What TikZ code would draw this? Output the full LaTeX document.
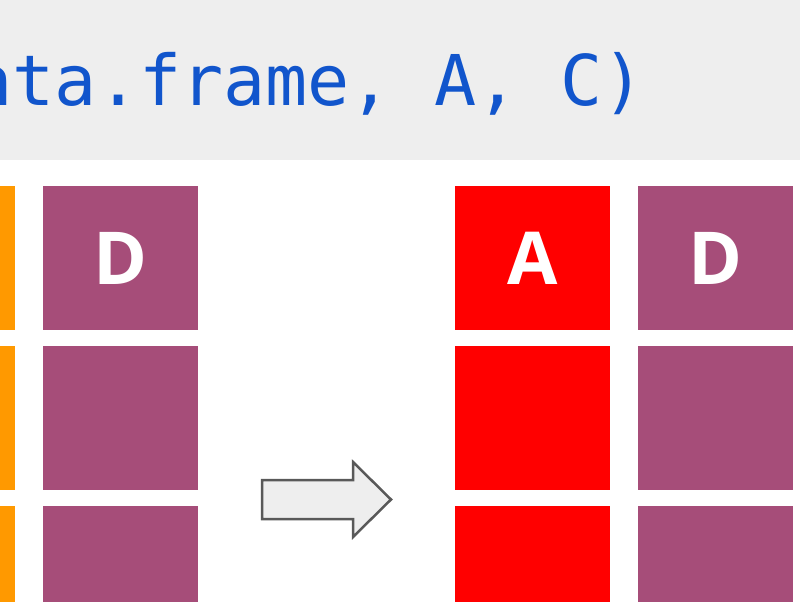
\documentclass[tikz,border=0pt]{standalone}
\usepackage{fontspec}
\newfontfamily\codefont{DejaVu Sans Mono}
\newfontfamily\headfont{Open Sans}
\usetikzlibrary{positioning}
\definecolor{codeblue}{HTML}{1155CC}
\definecolor{codebg}{HTML}{EEEEEE}
\definecolor{colorange}{HTML}{FF9900}
\definecolor{colpurple}{HTML}{A64D79}
\definecolor{colred}{HTML}{FF0000}
\definecolor{arrowline}{HTML}{595959}

\begin{document}
\begin{tikzpicture}[
    x=1pt,y=-1pt,
    node distance=16pt and 28pt,
    band/.style={rectangle,fill=codebg,minimum width=800pt,minimum height=160pt,inner sep=0pt,outer sep=0pt},
    code/.style={inner sep=0pt,text=codeblue,font=\codefont\fontsize{70}{70}\selectfont},
    cell/.style={rectangle,minimum width=155pt,minimum height=144pt,inner sep=0pt,outer sep=0pt,text=white,font=\headfont\bfseries\fontsize{73}{73}\selectfont},
    orangecell/.style={cell,fill=colorange},
    purplecell/.style={cell,fill=colpurple},
    redcell/.style={cell,fill=colred},
    blockarrow/.style={draw=arrowline,fill=codebg,line width=2.5pt,line join=miter}
]
\useasboundingbox (0,0) rectangle (800,602);

% Code line
\node[band] (band) at (400,80) {};
\node[code,anchor=base west] (call) at (-29.5,105) {ata.frame, A, C)};

% Input columns (left)
\node[orangecell,anchor=north east] (inC1) at (15,186) {};
\node[orangecell,below=of inC1] (inC2) {};
\node[orangecell,below=of inC2] (inC3) {};
\node[purplecell,right=of inC1] (inD1) {D};
\node[purplecell,right=of inC2] (inD2) {};
\node[purplecell,right=of inC3] (inD3) {};

% Output columns (right)
\node[redcell,anchor=north west] (outA1) at (455,186) {A};
\node[redcell,below=of outA1] (outA2) {};
\node[redcell,below=of outA2] (outA3) {};
\node[purplecell,right=of outA1] (outD1) {D};
\node[purplecell,right=of outA2] (outD2) {};
\node[purplecell,right=of outA3] (outD3) {};

% Arrow
\draw[blockarrow] (262,480) -- (353,480) -- (353,462) -- (391,499.5) -- (353,537) -- (353,519) -- (262,519) -- cycle;

\end{tikzpicture}
\end{document}
